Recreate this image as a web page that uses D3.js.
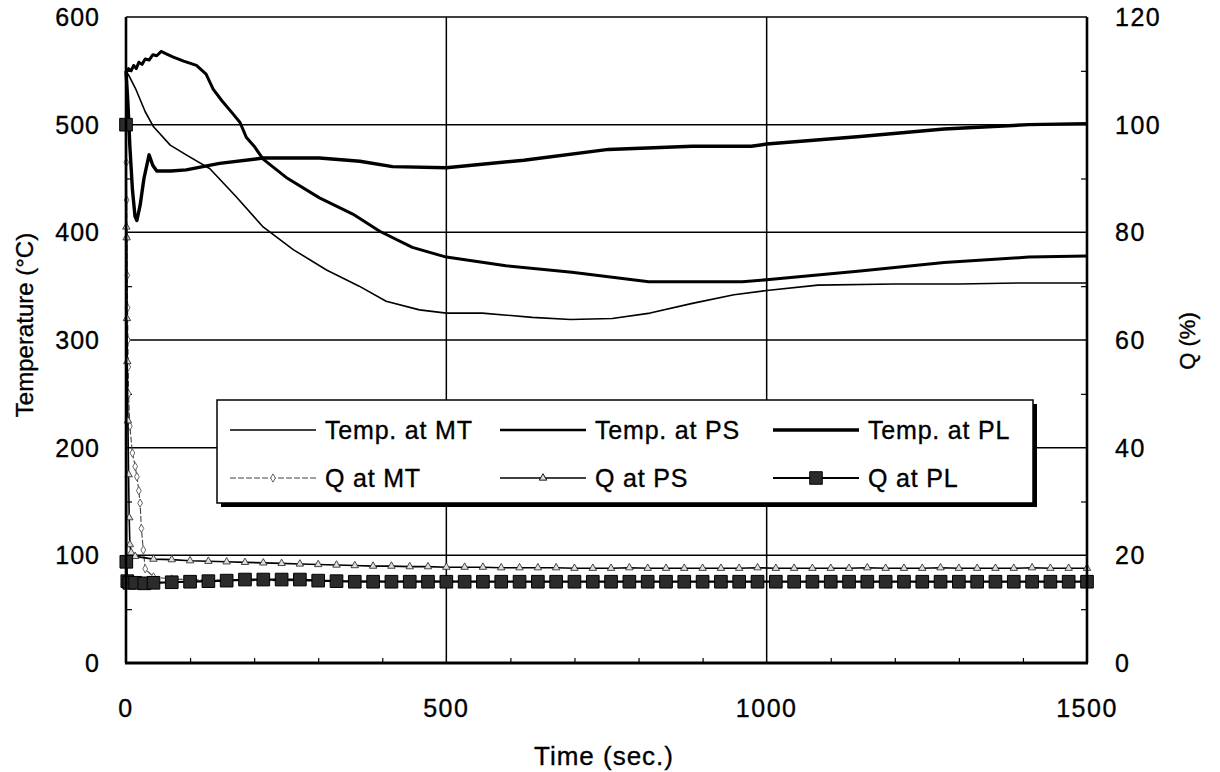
<!DOCTYPE html>
<html>
<head>
<meta charset="utf-8">
<script src="https://cdn.jsdelivr.net/npm/d3@7"></script>
<style>
  html, body { margin: 0; padding: 0; background: #fff; }
  svg { display: block; font-family: "Liberation Sans", Arial, sans-serif; }
  svg text { fill: #000; stroke: #000; stroke-width: 0.35px; }
</style>
</head>
<body>
<div id="chart"></div>
<script>
// temperatures (deg C)
const mtTime = [0, 5, 16, 30, 43, 69, 94, 131, 172, 214, 261, 313, 364, 406, 458, 500, 556, 634, 694, 759, 818, 884, 949, 1000, 1080, 1200, 1300, 1400, 1500];
const mtTemp = [550, 545, 532, 512, 498, 481, 472, 459, 433, 405, 384, 365, 350, 336, 328, 325, 325, 321, 319, 320, 325, 334, 342, 346, 351, 352, 352, 353, 353];

const psTime = [0, 4, 8, 12, 16, 20, 25, 30, 36, 42, 48, 55, 62, 73, 90, 110, 125, 136, 150, 167, 178, 188, 200, 214, 250, 302, 354, 396, 447, 500, 593, 696, 816, 903, 962, 1000, 1146, 1277, 1409, 1500];
const psTemp = [548, 552, 550, 555, 552, 558, 556, 561, 560, 565, 564, 568, 566, 563, 559, 555, 547, 533, 522, 510, 502, 488, 480, 468, 451, 432, 417, 401, 386, 377, 369, 363, 354, 354, 354, 356, 364, 372, 377, 378];

const plTime = [0, 3, 6, 10, 14, 17, 22, 28, 36, 42, 48, 70, 94, 146, 214, 302, 365, 416, 500, 621, 753, 884, 976, 1000, 1146, 1277, 1409, 1500];
const plTemp = [550, 520, 480, 440, 415, 411, 425, 450, 472, 462, 457, 457, 458, 464, 469, 469, 466, 461, 460, 467, 477, 480, 480, 482, 489, 496, 500, 501];

// Q (%) : dense points at the start, then one sample about every 28.6 s
const qSampleTimes = [71.4, 100, 128.6, 157.1, 185.7, 214.3, 242.9, 271.4, 300, 328.6, 357.1, 385.7, 414.3, 442.9, 471.4,
  500, 528.6, 557.1, 585.7, 614.3, 642.9, 671.4, 700, 728.6, 757.1, 785.7, 814.3, 842.9, 871.4, 900,
  928.6, 957.1, 985.7, 1014.3, 1042.9, 1071.4, 1100, 1128.6, 1157.1, 1185.7, 1214.3, 1242.9, 1271.4, 1300,
  1328.6, 1357.1, 1385.7, 1414.3, 1442.9, 1471.4, 1500];

const qMtStartTime = [0, 0.5, 1, 1.5, 2, 2.5, 3, 3.5, 4, 6, 10, 14.3, 17, 20, 22, 24, 27, 30, 42.9];
const qMtStart = [100, 93, 86, 79, 72, 66, 60, 55, 50, 44, 39, 36.5, 34.6, 32, 29.7, 25, 21, 17.5, 16.0];
const qMtSamples = [15.6, 15.5, 15.4, 15.4, 15.3, 15.3, 15.3, 15.3, 15.2, 15.2, 15.2, 15.2, 15.2, 15.2, 15.2,
  15.2, 15.2, 15.1, 15.1, 15.1, 15.1, 15.1, 15.1, 15.1, 15.1, 15.1, 15.1, 15.1, 15.1, 15.1,
  15.1, 15.1, 15.1, 15.1, 15.1, 15.1, 15.1, 15.1, 15.1, 15.1, 15.1, 15.1, 15.1, 15.1,
  15.1, 15.1, 15.1, 15.1, 15.1, 15.1, 15.1];

const qPsStartTime = [0, 0.5, 1, 1.5, 2, 3, 4, 5, 6, 8, 14.3, 42.9];
const qPsStart = [100, 81, 79, 64, 56, 45, 35, 27, 22, 20.5, 19.8, 19.3];
const qPsSamples = [19.2, 19.0, 18.9, 18.8, 18.7, 18.6, 18.5, 18.4, 18.3, 18.2, 18.1, 18.0, 18.0, 17.9, 17.9,
  17.8, 17.8, 17.8, 17.7, 17.7, 17.7, 17.7, 17.6, 17.6, 17.6, 17.7, 17.6, 17.6, 17.6, 17.6,
  17.6, 17.6, 17.7, 17.6, 17.6, 17.6, 17.6, 17.6, 17.7, 17.6, 17.6, 17.6, 17.7, 17.6,
  17.6, 17.6, 17.6, 17.7, 17.6, 17.6, 17.6];

const qPlStartTime = [0, 0.5, 2, 5, 14.3, 28.6, 42.9];
const qPlStart = [100, 18.8, 15.2, 14.9, 14.9, 14.8, 14.9];
const qPlSamples = [15.0, 15.1, 15.2, 15.3, 15.5, 15.5, 15.5, 15.5, 15.3, 15.2, 15.1, 15.1, 15.1, 15.1, 15.1,
  15.1, 15.1, 15.1, 15.1, 15.1, 15.1, 15.1, 15.1, 15.1, 15.1, 15.1, 15.1, 15.1, 15.1, 15.1,
  15.1, 15.1, 15.1, 15.1, 15.1, 15.1, 15.1, 15.1, 15.1, 15.1, 15.1, 15.1, 15.1, 15.1,
  15.1, 15.1, 15.1, 15.1, 15.1, 15.1, 15.1];

const tempTicks = [0, 100, 200, 300, 400, 500, 600];
const qTicks = [0, 20, 40, 60, 80, 100, 120];
const timeTicks = [0, 500, 1000, 1500];

const legendRow1 = ["Temp. at MT", "Temp. at PS", "Temp. at PL"];
const legendRow2 = ["Q at MT", "Q at PS", "Q at PL"];

function pairs(ts, vs) {
  return ts.map((t, i) => ({ t: t, v: vs[i] }));
}

function drawChart() {
  const totalW = 1220, totalH = 772;
  const margin = { top: 17, right: 133, bottom: 109, left: 126 };
  const width = totalW - margin.left - margin.right;
  const height = totalH - margin.top - margin.bottom;

  const svg = d3.select("#chart")
    .append("svg")
    .attr("width", totalW)
    .attr("height", totalH);

  const chart = svg.append("g")
    .attr("transform", `translate(${margin.left},${margin.top})`);

  const x = d3.scaleLinear().domain([0, 1500]).range([0, width]);
  const y = d3.scaleLinear().domain([0, 600]).range([height, 0]);
  const yQ = d3.scaleLinear().domain([0, 120]).range([height, 0]);

  // gridlines
  chart.selectAll("line.hgrid")
    .data(tempTicks.filter(d => d > 0 && d < 600))
    .enter().append("line")
    .attr("x1", 0).attr("x2", width)
    .attr("y1", d => y(d)).attr("y2", d => y(d))
    .attr("stroke", "#000").attr("stroke-width", 1.5);

  chart.selectAll("line.vgrid")
    .data(timeTicks.filter(d => d > 0 && d < 1500))
    .enter().append("line")
    .attr("x1", d => x(d)).attr("x2", d => x(d))
    .attr("y1", 0).attr("y2", height)
    .attr("stroke", "#000").attr("stroke-width", 1.5);

  // frame top
  chart.append("line").attr("x1", 0).attr("x2", width).attr("y1", 0).attr("y2", 0)
    .attr("stroke", "#000").attr("stroke-width", 1.5);

  // minor ticks, pointing inward
  chart.append("g")
    .call(d3.axisRight(y).tickValues(d3.range(50, 600, 100)).tickSize(6).tickFormat(""))
    .call(g => g.select(".domain").remove())
    .selectAll("line").attr("stroke-width", 1.2);
  chart.append("g")
    .attr("transform", `translate(${width},0)`)
    .call(d3.axisLeft(yQ).tickValues(d3.range(10, 120, 20)).tickSize(6).tickFormat(""))
    .call(g => g.select(".domain").remove())
    .selectAll("line").attr("stroke-width", 1.2);
  chart.append("g")
    .attr("transform", `translate(0,${height})`)
    .call(d3.axisTop(x).tickValues(d3.range(100, 1500, 100).filter(d => d % 500 !== 0)).tickSize(5).tickFormat(""))
    .call(g => g.select(".domain").remove())
    .selectAll("line").attr("stroke-width", 1.2);

  // tick labels
  const tickFont = "25px";
  chart.selectAll("text.yl")
    .data(tempTicks)
    .enter().append("text")
    .attr("x", -26).attr("y", d => y(d)).attr("dy", "0.36em")
    .attr("text-anchor", "end")
    .attr("font-size", tickFont).attr("letter-spacing", "1px")
    .text(d => d);

  chart.selectAll("text.yr")
    .data(qTicks)
    .enter().append("text")
    .attr("x", width + 28).attr("y", d => yQ(d)).attr("dy", "0.36em")
    .attr("text-anchor", "start")
    .attr("font-size", tickFont).attr("letter-spacing", "1.5px")
    .text(d => d);

  chart.selectAll("text.xl")
    .data(timeTicks)
    .enter().append("text")
    .attr("x", d => x(d)).attr("y", height + 54)
    .attr("text-anchor", "middle")
    .attr("font-size", tickFont).attr("letter-spacing", "1.5px")
    .text(d => d);

  // axis titles
  svg.append("text")
    .attr("transform", "translate(33,325) rotate(-90)")
    .attr("text-anchor", "middle")
    .attr("font-size", "24px")
    .text("Temperature (°C)");

  svg.append("text")
    .attr("transform", "translate(1195,341) rotate(-90)")
    .attr("text-anchor", "middle")
    .attr("font-size", "22px")
    .text("Q (%)");

  svg.append("text")
    .attr("x", 604).attr("y", 765)
    .attr("text-anchor", "middle")
    .attr("font-size", "26px").attr("letter-spacing", "1px")
    .text("Time (sec.)");

  // temperature lines
  const tempLine = d3.line().x(d => x(d.t)).y(d => y(d.v));
  const tempSeries = [
    { data: pairs(mtTime, mtTemp), w: 1.6 },
    { data: pairs(psTime, psTemp), w: 3 },
    { data: pairs(plTime, plTemp), w: 3.4 }
  ];
  tempSeries.forEach(s => {
    chart.append("path")
      .datum(s.data)
      .attr("fill", "none")
      .attr("stroke", "#000")
      .attr("stroke-width", s.w)
      .attr("stroke-linejoin", "round")
      .attr("d", tempLine);
  });

  // Q lines
  const qLine = d3.line().x(d => x(d.t)).y(d => yQ(d.v));
  const qMt = pairs(qMtStartTime.concat(qSampleTimes), qMtStart.concat(qMtSamples));
  const qPs = pairs(qPsStartTime.concat(qSampleTimes), qPsStart.concat(qPsSamples));
  const qPl = pairs(qPlStartTime.concat(qSampleTimes), qPlStart.concat(qPlSamples));

  const tri = d3.symbol().type(d3.symbolTriangle).size(24);
  const dia = d3.symbol().type(d3.symbolDiamond).size(20);
  const sq = d3.symbol().type(d3.symbolSquare).size(160);

  // Q at MT: thin dashed line, small grey diamonds
  chart.append("path").datum(qMt)
    .attr("fill", "none").attr("stroke", "#444").attr("stroke-width", 1.1)
    .attr("stroke-dasharray", "6,2").attr("d", qLine);
  chart.selectAll("path.mtm").data(qMt).enter().append("path")
    .attr("transform", d => `translate(${x(d.t)},${yQ(d.v)})`)
    .attr("d", dia).attr("fill", "#fff").attr("stroke", "#555").attr("stroke-width", 0.9);

  // Q at PS: thin line, small open triangles
  chart.append("path").datum(qPs)
    .attr("fill", "none").attr("stroke", "#000").attr("stroke-width", 1.6)
    .attr("d", qLine);
  chart.selectAll("path.psm").data(qPs).enter().append("path")
    .attr("transform", d => `translate(${x(d.t)},${yQ(d.v)})`)
    .attr("d", tri).attr("fill", "#ddd").attr("stroke", "#333").attr("stroke-width", 0.9);

  // Q at PL: line with dark squares
  chart.append("path").datum(qPl)
    .attr("fill", "none").attr("stroke", "#000").attr("stroke-width", 2.2)
    .attr("d", qLine);
  chart.selectAll("path.plm").data(qPl).enter().append("path")
    .attr("transform", d => `translate(${x(d.t)},${yQ(d.v)})`)
    .attr("d", sq).attr("fill", "#2b2b2b").attr("stroke", "#000").attr("stroke-width", 1);

  // axis lines (left, bottom, right)
  chart.append("line").attr("x1", 0).attr("x2", 0).attr("y1", 0).attr("y2", height)
    .attr("stroke", "#000").attr("stroke-width", 2.6);
  chart.append("line").attr("x1", -1).attr("x2", width + 1).attr("y1", height).attr("y2", height)
    .attr("stroke", "#000").attr("stroke-width", 2.8);
  chart.append("line").attr("x1", width).attr("x2", width).attr("y1", 0).attr("y2", height)
    .attr("stroke", "#000").attr("stroke-width", 2.6);

  // legend with shadow
  const lg = svg.append("g").attr("transform", "translate(217,400)");
  const lgW = 816, lgH = 103;
  lg.append("rect").attr("x", 4).attr("y", 4).attr("width", lgW).attr("height", lgH).attr("fill", "#000");
  lg.append("rect").attr("x", 0).attr("y", 0).attr("width", lgW).attr("height", lgH)
    .attr("fill", "#fff").attr("stroke", "#000").attr("stroke-width", 1.5);

  const colX = [13, 283, 556];
  const sampleW = 86;
  const rowY = [30, 78];
  const tempW = [1.6, 2.4, 3.4];

  legendRow1.forEach((name, i) => {
    lg.append("line")
      .attr("x1", colX[i]).attr("x2", colX[i] + sampleW)
      .attr("y1", rowY[0]).attr("y2", rowY[0])
      .attr("stroke", "#000").attr("stroke-width", tempW[i]);
    lg.append("text")
      .attr("x", colX[i] + sampleW + 9).attr("y", rowY[0]).attr("dy", "0.36em")
      .attr("font-size", "25px").attr("letter-spacing", "0.8px")
      .text(name);
  });

  legendRow2.forEach((name, i) => {
    const x0 = colX[i], x1 = colX[i] + sampleW, xm = (x0 + x1) / 2, yy = rowY[1];
    const ln = lg.append("line")
      .attr("x1", x0).attr("x2", x1).attr("y1", yy).attr("y2", yy)
      .attr("stroke", i === 0 ? "#444" : "#000")
      .attr("stroke-width", i === 0 ? 1.1 : (i === 1 ? 1.6 : 2.2));
    if (i === 0) ln.attr("stroke-dasharray", "6,2");
    lg.append("path")
      .attr("transform", `translate(${xm},${yy})`)
      .attr("d", i === 0 ? dia : (i === 1 ? tri : sq))
      .attr("fill", i === 2 ? "#2b2b2b" : (i === 1 ? "#ddd" : "#fff"))
      .attr("stroke", i === 0 ? "#555" : "#000")
      .attr("stroke-width", 0.9);
    lg.append("text")
      .attr("x", x1 + 9).attr("y", yy).attr("dy", "0.36em")
      .attr("font-size", "25px").attr("letter-spacing", "0.8px")
      .text(name);
  });
}

drawChart();
</script>
</body>
</html>
